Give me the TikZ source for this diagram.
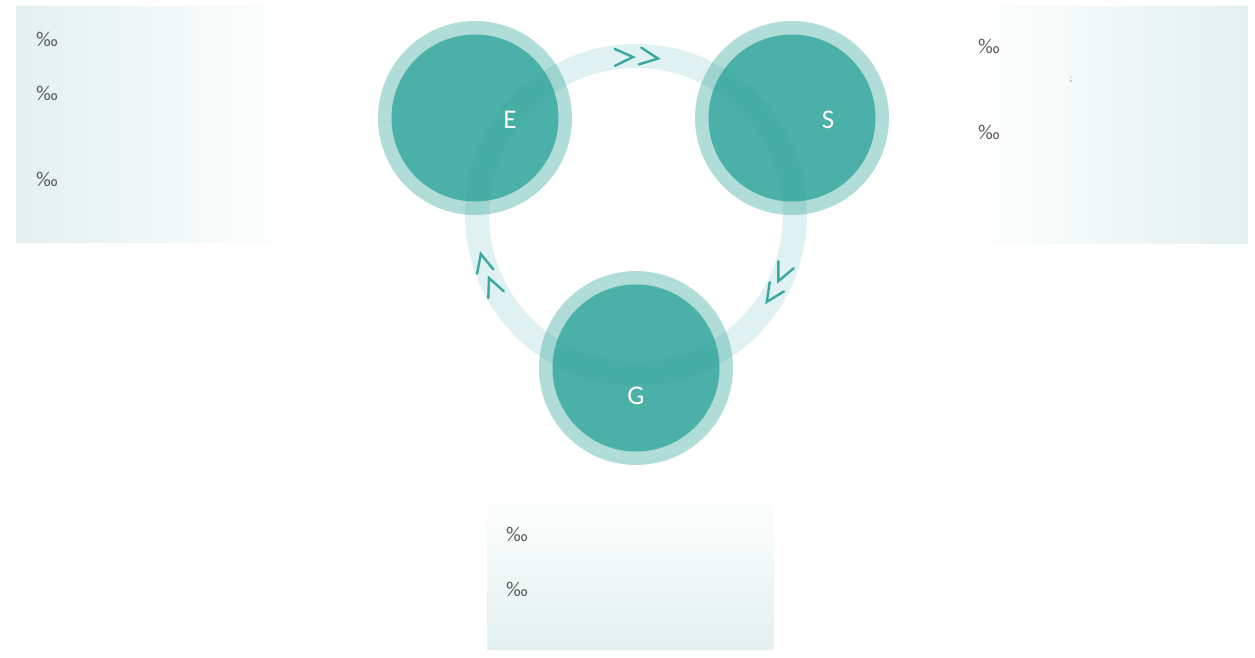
\documentclass[tikz,border=0pt]{standalone}
\usepackage{fontspec}
\setmainfont{Carlito}
\definecolor{panel}{HTML}{E3F1F0}
\definecolor{ringc}{HTML}{36A79D}
\definecolor{halo}{HTML}{B1DDD9}
\definecolor{core}{HTML}{4BB0A8}
\definecolor{chevc}{HTML}{3AA89E}
\definecolor{txt}{HTML}{5E5E5E}
\begin{document}
\begin{tikzpicture}[x=1pt,y=-1pt,
  panelbox/.style={draw=none},
  permille/.style={anchor=west,text=txt,font=\fontsize{21}{24}\selectfont,inner sep=0pt},
  halodisk/.style={circle,fill=halo,draw=none,minimum size=194pt,inner sep=0pt},
  coredisk/.style={circle,fill=core,draw=none,minimum size=167pt,inner sep=0pt},
  letter/.style={text=white,font=\fontsize{27}{30}\selectfont,inner sep=0pt},
  chev/.style={draw=chevc,line width=2.4pt,line cap=round,line join=miter}]
\useasboundingbox (0,0) rectangle (1255,658);
% panels
\shade[panelbox,left color=panel,right color=white] (16,7) rectangle (300,242);
\shade[panelbox,left color=white,right color=panel] (963,7) rectangle (1248,243);
\shade[panelbox,top color=white,bottom color=panel] (487,489) rectangle (774,649);
% panel texts
\node[permille] (l1) at (36,39) {‰};
\node[permille] (l2) at (36,93) {‰};
\node[permille] (l3) at (36,179) {‰};
\node[permille] (r1) at (978,46) {‰};
\node[permille] (r2) at (978,132) {‰};
\node[text=txt!70,font=\fontsize{10}{12}\selectfont,inner sep=0pt] (rsemi) at (1071,80) {;};
\node[permille] (b1) at (506,534) {‰};
\node[permille] (b2) at (506,589) {‰};
% circles
\node[halodisk] (Eh) at (475,118) {};
\node[halodisk] (Sh) at (792,118) {};
\node[halodisk] (Gh) at (636,368) {};
\node[coredisk] (Ec) at (475,118) {};
\node[coredisk] (Sc) at (792,118) {};
\node[coredisk] (Gc) at (636,368) {};
% ring on top, translucent
\coordinate (ctr) at (636,215);
\draw[ringc,draw opacity=0.155,line width=24pt] (ctr) circle [radius=159pt];
\node[letter] (El) at (510,120) {E};
\node[letter] (Sl) at (828,120) {S};
\node[letter] (Gl) at (636,396) {G};
% chevrons
\begin{scope}[shift={(ctr)}]
\foreach \a/\r in {-91.1/158,-82/158,24.9/157,33.6/157,165.9/160,156.8/160}{
  \draw[chev] (\a:\r) ++(\a+90+155:20) -- (\a:\r) -- ++(\a+90-155:20);
}
\end{scope}
\end{tikzpicture}
\end{document}
